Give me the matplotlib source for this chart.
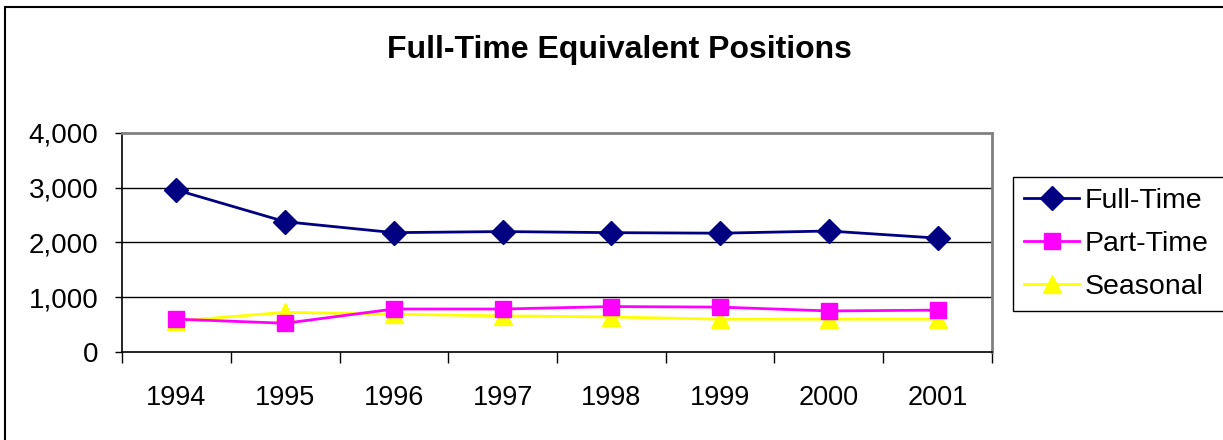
import matplotlib
matplotlib.use("Agg")
import matplotlib.pyplot as plt
from matplotlib.patches import Rectangle
from matplotlib.ticker import FuncFormatter, FixedLocator
import numpy as np

years = ["1994", "1995", "1996", "1997", "1998", "1999", "2000", "2001"]
full_time = [2960, 2380, 2180, 2200, 2180, 2170, 2210, 2080]
part_time = [600, 525, 785, 785, 830, 820, 750, 765]
seasonal = [565, 725, 690, 660, 640, 600, 600, 600]
y_ticks = [0, 1000, 2000, 3000, 4000]
title = "Full-Time Equivalent Positions"

plt.rcParams['font.family'] = ['Liberation Sans', 'DejaVu Sans']

W, H = 1223, 440
fig = plt.figure(figsize=(W / 100, H / 100), dpi=100)
fig.patch.set_facecolor("white")

# Figure border (right/bottom cut off in reference)
fig.patches.append(Rectangle((5 / W, -0.1), 1.2, 1 - 7 / H + 0.1, transform=fig.transFigure,
                             fill=False, edgecolor="black", linewidth=1.5, zorder=0))

left, right, top, bottom = 122, 992, 133, 352
ax = fig.add_axes([left / W, 1 - bottom / H, (right - left) / W, (bottom - top) / H])

x = np.arange(len(years))
ax.plot(x, full_time, color="#000080", lw=2.0, marker="D", ms=12, label="Full-Time", zorder=5)
ax.plot(x, part_time, color="#FF00FF", lw=2.0, marker="s", ms=11, label="Part-Time", zorder=4)
ax.plot(x, seasonal, color="#FFFF00", lw=2.0, marker="^", ms=13, label="Seasonal", zorder=3)

ax.set_xlim(-0.5, len(years) - 0.5)
ax.set_ylim(0, 4000)
ax.set_yticks(y_ticks)
ax.yaxis.set_major_formatter(FuncFormatter(lambda v, p: f"{int(v):,}"))
ax.tick_params(axis="y", direction="out", length=5, width=1, pad=12, labelsize=20)

ax.xaxis.set_major_locator(FixedLocator(np.arange(-0.5, len(years), 1.0)))
ax.xaxis.set_major_formatter(FuncFormatter(lambda v, p: ""))
ax.xaxis.set_minor_locator(FixedLocator(x))
ax.set_xticklabels(years, minor=True)
ax.tick_params(axis="x", which="major", direction="out", length=8, width=1)
ax.tick_params(axis="x", which="minor", length=0, pad=24, labelsize=19.5)

for yv in y_ticks[1:-1]:
    ax.axhline(yv, color="black", lw=1.0, zorder=1)

ax.spines["left"].set_color("black")
ax.spines["bottom"].set_color("black")
ax.spines["left"].set_linewidth(1.2)
ax.spines["bottom"].set_linewidth(1.2)
ax.spines["top"].set_color("#808080")
ax.spines["right"].set_color("#808080")
ax.spines["top"].set_linewidth(2)
ax.spines["right"].set_linewidth(2)

fig.text(619 / W, 1 - 50 / H, title, ha="center", va="center", fontsize=23, fontweight="bold")

leg_top = 1 - 177 / H
leg_bot = 1 - 307 / H
leg = fig.legend(loc="upper left", bbox_to_anchor=(1013 / W, leg_bot, 240 / W, leg_top - leg_bot),
                 mode="expand", fontsize=20.5,
                 frameon=True, fancybox=False, edgecolor="black", framealpha=1,
                 handlelength=1.95, handletextpad=0.2, labelspacing=0.6,
                 borderpad=0.38, borderaxespad=0, bbox_transform=fig.transFigure)
leg.get_frame().set_linewidth(1.0)

fig.savefig("out.png", dpi=100)
